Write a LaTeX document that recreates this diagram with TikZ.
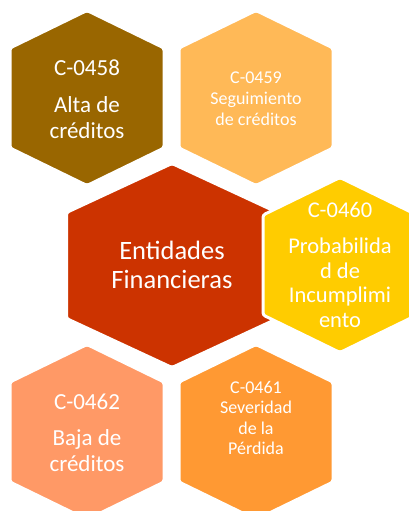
\documentclass[tikz,border=0pt]{standalone}
\usepackage{fontspec}
\setmainfont{Carlito}
\definecolor{cbrown}{HTML}{996600}
\definecolor{clorange}{HTML}{FFB957}
\definecolor{cyellow}{HTML}{FFCC00}
\definecolor{cred}{HTML}{CC3300}
\definecolor{csalmon}{HTML}{FF9966}
\definecolor{corange}{HTML}{FF9933}
\newcommand\hexsmall[3]{\path[hexfill,fill=#3] (#1,#2) -- ++(77,37.5) -- ++(0,100) -- ++(-77,37.5) -- ++(-77,-37.5) -- ++(0,-100) -- cycle;}
\begin{document}
\begin{tikzpicture}[x=1pt,y=-1pt,
  hexfill/.style={draw=white, line width=3pt, rounded corners=2.5pt},
  lbl/.style={text=white, align=center, inner sep=0pt}]
\useasboundingbox (0,0) rectangle (409,511);
\clip (0,0) rectangle (409,511);
% hexagons
\hexsmall{87}{10.5}{cbrown}
\hexsmall{256}{10.5}{clorange}
\path[hexfill,fill=cred] (172,163.5) -- (277.5,212.5) -- (277.5,318.5) -- (172,367.5) -- (66.5,318.5) -- (66.5,212.5) -- cycle;
\hexsmall{340}{177.5}{cyellow}
\hexsmall{87}{344.5}{csalmon}
\hexsmall{256}{344.5}{corange}
% labels
\node[lbl, font=\fontsize{23}{26}\selectfont] (t458) at (87,99) {C-0458\\[11pt]Alta de\\créditos};
\node[lbl, font=\fontsize{18}{21}\selectfont] (t459) at (256,98.5) {C-0459\\Seguimiento\\de créditos};
\node[lbl, font=\fontsize{26.5}{29}\selectfont] (tcen) at (172,265) {Entidades\\Financieras};
\node[lbl, font=\fontsize{22.5}{24.5}\selectfont] (t460) at (340,265) {C-0460\\[11.5pt]Probabilida\\d de\\Incumplimi\\ento};
\node[lbl, font=\fontsize{23}{26}\selectfont] (t462) at (87,432.5) {C-0462\\[10pt]Baja de\\créditos};
\node[lbl, font=\fontsize{18}{20.5}\selectfont] (t461) at (256,418) {C-0461\\Severidad\\de la\\Pérdida};
\end{tikzpicture}
\end{document}
